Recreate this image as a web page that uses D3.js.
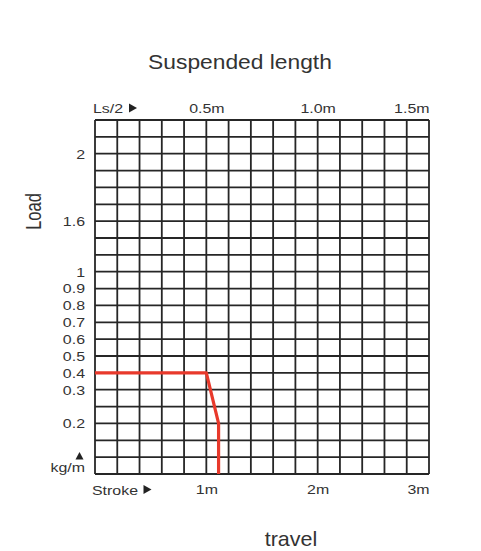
<!DOCTYPE html>
<html>
<head>
<meta charset="utf-8">
<script src="https://cdn.jsdelivr.net/npm/d3@7"></script>
<style>
  html, body { margin: 0; padding: 0; background: #fff; }
  svg { display: block; }
  text { font-family: "Liberation Sans", Arial, sans-serif; fill: #333; }
</style>
</head>
<body>
<div id="chart"></div>
<script>
// ---- data ----
const strokeTicks = [1, 2, 3];
const strokeTickLabels = ["1m", "2m", "3m"];
const lengthTicks = [0.5, 1.0, 1.5];
const lengthTickLabels = ["0.5m", "1.0m", "1.5m"];
const loadTicks = [0.2, 0.3, 0.4, 0.5, 0.6, 0.7, 0.8, 0.9, 1, 1.6, 2];
const loadTickLabels = ["0.2", "0.3", "0.4", "0.5", "0.6", "0.7", "0.8", "0.9", "1", "1.6", "2"];
const loadTickLines = [3, 5, 6, 7, 8, 9, 10, 11, 12, 15, 19]; // grid line (from bottom) each load tick sits on
const gridColumns = 15;
const gridRows = 21;
const curveStroke = [0, 1.0, 1.11, 1.11];
const curveLoad = [0.4, 0.4, 0.2, 0];

// ---- layout ----
const W = 481, H = 551;
const mLeft = 95, mRight = 429, mTop = 120, mBottom = 474;
const SX = 1.18;      // horizontal stretch of tick text
const TICK_FS = 13.5;

const svg = d3.select("#chart").append("svg").attr("width", W).attr("height", H);

const xStroke = d3.scaleLinear().domain([0, 3]).range([mLeft, mRight]);
const xLength = d3.scaleLinear().domain([0, 1.5]).range([mLeft, mRight]);
const yRow = d3.scaleLinear().domain([0, gridRows]).range([mBottom, mTop]);
const yLoad = d3.scaleLinear()
  .domain([0].concat(loadTicks))
  .range([0].concat(loadTickLines).map(yRow));
const xCol = d3.scaleLinear().domain([0, gridColumns]).range([mLeft, mRight]);

// grid
const grid = svg.append("g").attr("stroke", "#262626").attr("stroke-width", 1.8).attr("fill", "none");
grid.selectAll("line.v").data(d3.range(gridColumns + 1)).join("line").attr("class", "v")
  .attr("x1", d => xCol(d)).attr("x2", d => xCol(d))
  .attr("y1", mTop).attr("y2", mBottom);
grid.selectAll("line.h").data(d3.range(gridRows + 1)).join("line").attr("class", "h")
  .attr("x1", mLeft).attr("x2", mRight)
  .attr("y1", d => yRow(d)).attr("y2", d => yRow(d));

// curve
const pts = curveStroke.map((s, i) => [s, curveLoad[i]]);
svg.append("path")
  .datum(pts)
  .attr("fill", "none")
  .attr("stroke", "#e8392b")
  .attr("stroke-width", 3.2)
  .attr("stroke-linejoin", "round")
  .attr("d", d3.line().x(d => xStroke(d[0])).y(d => yLoad(d[1])));

// axes
function styleAxis(g) {
  g.select(".domain").remove();
  g.selectAll(".tick line").remove();
  g.selectAll("text").attr("fill", "#333").attr("font-size", TICK_FS)
    .attr("font-family", "Liberation Sans, Arial, sans-serif")
    .each(function () {
      const t = d3.select(this);
      const x = +t.attr("x") || 0;
      t.attr("x", x / SX).attr("transform", `scale(${SX},1)`);
    });
}

const topAxis = svg.append("g").attr("transform", `translate(0,${mTop})`)
  .call(d3.axisTop(xLength).tickValues(lengthTicks).tickSize(0).tickPadding(7)
    .tickFormat((d, i) => lengthTickLabels[i]))
  .call(styleAxis);
topAxis.selectAll(".tick text").filter((d, i) => i === lengthTicks.length - 1).attr("text-anchor", "end");

const botAxis = svg.append("g").attr("transform", `translate(0,${mBottom})`)
  .call(d3.axisBottom(xStroke).tickValues(strokeTicks).tickSize(0).tickPadding(10)
    .tickFormat((d, i) => strokeTickLabels[i]))
  .call(styleAxis);
botAxis.selectAll(".tick text").filter((d, i) => i === strokeTicks.length - 1).attr("text-anchor", "end");

const leftAxis = svg.append("g").attr("transform", `translate(${mLeft},0)`)
  .call(d3.axisLeft(yLoad).tickValues(loadTicks).tickSize(0).tickPadding(10)
    .tickFormat((d, i) => loadTickLabels[i]))
  .call(styleAxis);

// extra labels
function label(x, y, txt, fs, sx, anchor) {
  return svg.append("text")
    .attr("transform", `translate(${x},${y}) scale(${sx},1)`)
    .attr("font-size", fs)
    .attr("text-anchor", anchor || "start")
    .text(txt);
}

label(93, 113, "Ls/2", TICK_FS, SX);
svg.append("path").attr("d", "M129,103.5 L137,108 L129,112.5 Z").attr("fill", "#222");

label(92, 494.5, "Stroke", TICK_FS, SX);
svg.append("path").attr("d", "M143.5,485 L151.5,489.5 L143.5,494 Z").attr("fill", "#222");

label(85, 472, "kg/m", TICK_FS, SX, "end");
svg.append("path").attr("d", "M75.5,459.5 L79.5,452 L83.5,459.5 Z").attr("fill", "#222");

label(240, 68.5, "Suspended length", 20, 1.14, "middle");
label(291, 546, "travel", 20.5, 1.05, "middle");
svg.append("text").attr("transform", "translate(41,211.5) rotate(-90) scale(1,1.3)")
  .attr("font-size", 16.5).attr("text-anchor", "middle").text("Load");
</script>
</body>
</html>
